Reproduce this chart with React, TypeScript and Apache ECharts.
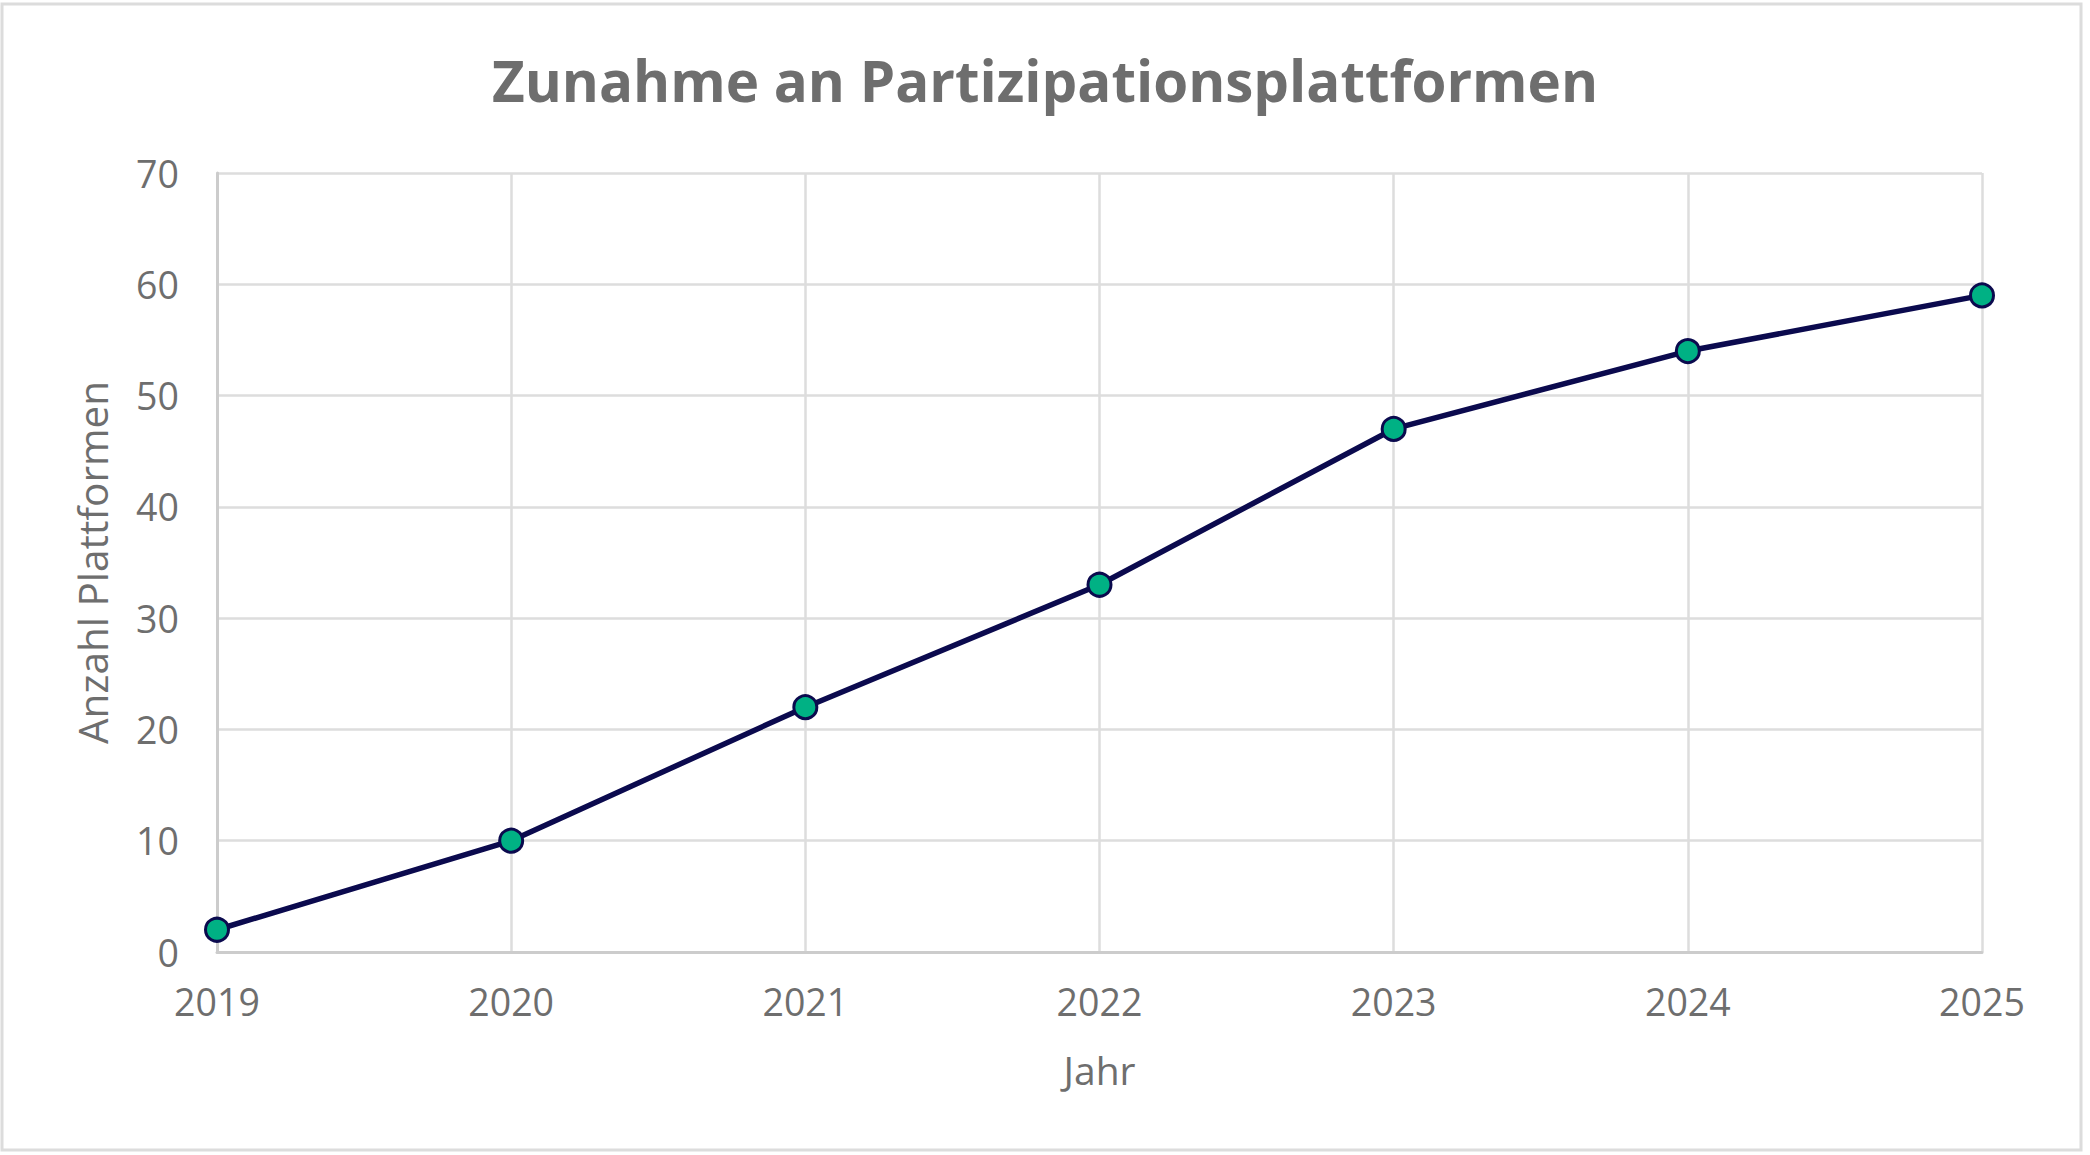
import React, { useEffect, useRef } from "react";
import * as echarts from "echarts";

const years = ["2019", "2020", "2021", "2022", "2023", "2024", "2025"];
const platforms = [2, 10, 22, 33, 47, 54, 59];
const yTicks = { min: 0, max: 70, interval: 10 };

const TITLE = "Zunahme an Partizipationsplattformen";
const X_NAME = "Jahr";
const Y_NAME = "Anzahl Plattformen";

const FONT = "'Open Sans', Lato, sans-serif";
const GRAY = "#6e6e6e";

export default function App() {
  const ref = useRef<HTMLDivElement>(null);
  useEffect(() => {
    if (!ref.current) return;
    const chart = echarts.init(ref.current, undefined, { renderer: "svg" });
    chart.setOption({
      animation: false,
      backgroundColor: "#ffffff",
      textStyle: { fontFamily: FONT },
      title: {
        text: TITLE,
        left: "center",
        top: 47,
        textStyle: { fontFamily: FONT, fontWeight: "bold", fontSize: 56.5, color: GRAY },
      },
      graphic: [
        {
          type: "rect",
          shape: { x: 2, y: 4, width: 2079, height: 1146 },
          style: { fill: "none", stroke: "#dcdcdc", lineWidth: 3 },
          silent: true,
        },
      ],
      grid: { left: 217, right: 108, top: 173, bottom: 203, containLabel: false },
      xAxis: {
        type: "category",
        data: years,
        boundaryGap: false,
        name: X_NAME,
        nameLocation: "middle",
        nameGap: 98,
        nameTextStyle: { fontFamily: FONT, fontSize: 39, color: GRAY },
        axisLine: { show: true, lineStyle: { color: "#cccccc", width: 3 } },
        axisTick: { show: false },
        axisLabel: { fontFamily: FONT, fontSize: 37.5, color: GRAY, margin: 30 },
        splitLine: { show: true, lineStyle: { color: "#dddddd", width: 2.5 } },
      },
      yAxis: {
        type: "value",
        min: yTicks.min,
        max: yTicks.max,
        interval: yTicks.interval,
        name: Y_NAME,
        nameLocation: "middle",
        nameGap: 104,
        nameRotate: 90,
        nameTextStyle: { fontFamily: FONT, fontSize: 40.5, color: GRAY },
        axisLine: { show: true, lineStyle: { color: "#cccccc", width: 3 } },
        axisTick: { show: false },
        axisLabel: { fontFamily: FONT, fontSize: 37.5, color: GRAY, margin: 38 },
        splitLine: { show: true, lineStyle: { color: "#dddddd", width: 2.5 } },
      },
      series: [
        {
          type: "line",
          data: platforms,
          symbol: "circle",
          symbolSize: 23,
          lineStyle: { color: "#0b0a4e", width: 5.5 },
          itemStyle: { color: "#00b184", borderColor: "#0b0a4e", borderWidth: 3 },
          z: 5,
        },
      ],
    });
    return () => chart.dispose();
  }, []);
  return (
    <div
      ref={ref}
      style={{ position: "fixed", left: 0, top: 0, width: 2090, height: 1155 }}
    />
  );
}
